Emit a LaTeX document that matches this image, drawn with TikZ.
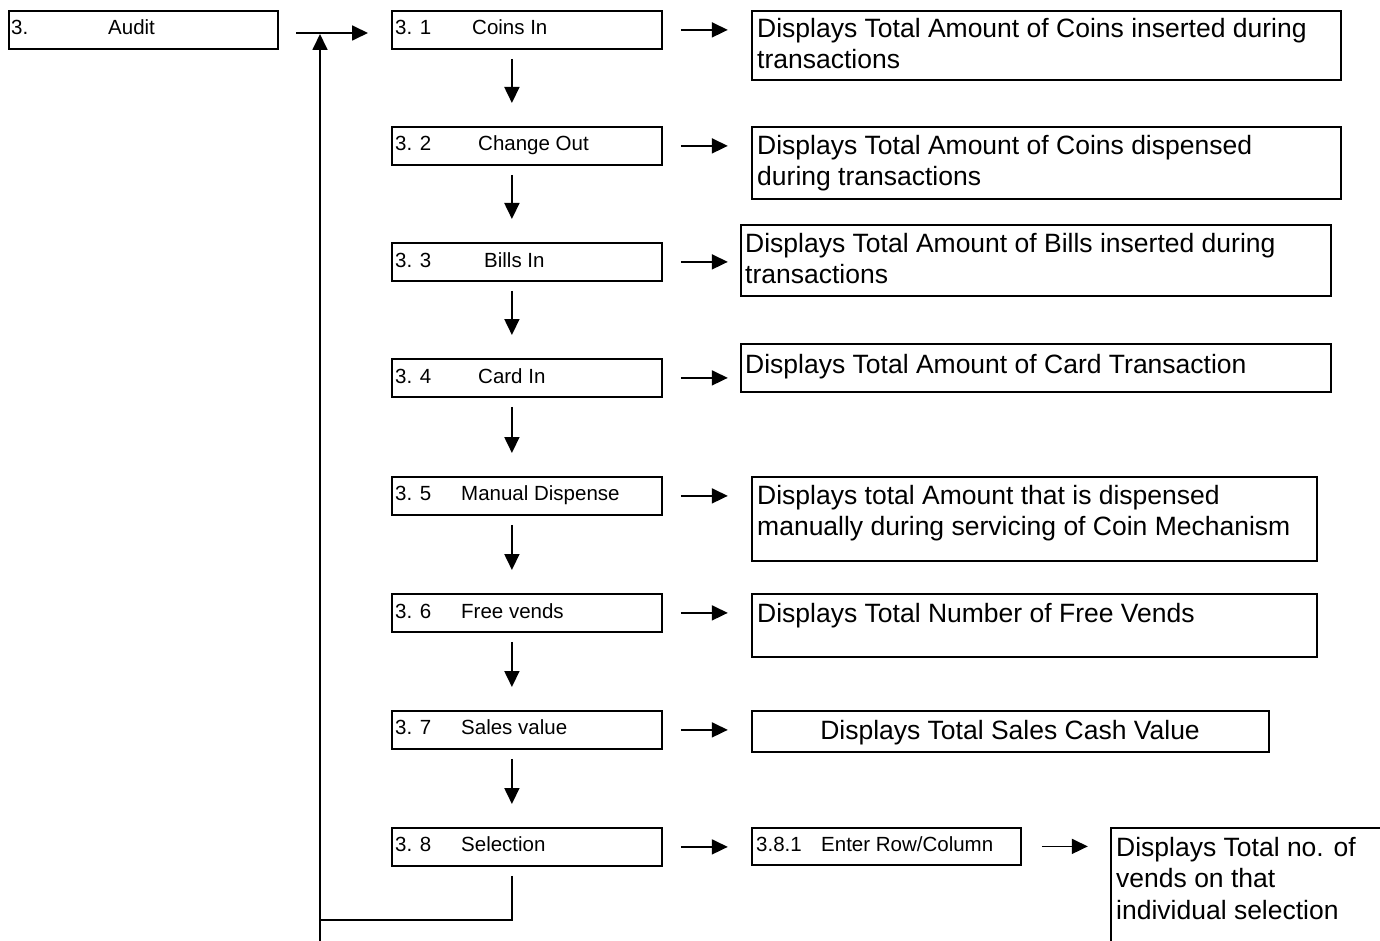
\documentclass[tikz,border=0pt]{standalone}
\usepackage{fontspec}
\setmainfont{Liberation Sans}
\usetikzlibrary{arrows.meta}
\begin{document}
\begin{tikzpicture}[x=1pt,y=-1pt,
  box/.style={draw, line width=1.8pt, anchor=north west, inner sep=0pt, minimum height=38pt},
  small/.style={font=\fontsize{20.5}{24}\selectfont, inner sep=0pt, anchor=base west},
  big/.style={font=\fontsize{26.5}{31.5}\selectfont, inner sep=0pt, anchor=north west, align=left},
  conn/.style={line width=1.8pt},
  arr/.style={line width=1.8pt, -{Triangle[length=16pt,width=15pt]}},
]
\clip (0,0) rectangle (1380,941);
% left column
\node[box, minimum width=269pt] (audit) at (8,10) {};
\node[box, minimum width=270pt] (b1) at (391,10) {};
\node[box, minimum width=270pt] (b2) at (391,126) {};
\node[box, minimum width=270pt] (b3) at (391,242) {};
\node[box, minimum width=270pt] (b4) at (391,358) {};
\node[box, minimum width=270pt] (b5) at (391,476) {};
\node[box, minimum width=270pt] (b6) at (391,593) {};
\node[box, minimum width=270pt] (b7) at (391,710) {};
\node[box, minimum width=270pt] (b8) at (391,827) {};
% right column
\node[box, minimum width=589pt, minimum height=69pt] (r1) at (751,10) {};
\node[box, minimum width=589pt, minimum height=72pt] (r2) at (751,126) {};
\node[box, minimum width=590pt, minimum height=71pt] (r3) at (740,224) {};
\node[box, minimum width=590pt, minimum height=48pt] (r4) at (740,343) {};
\node[box, minimum width=565pt, minimum height=84pt] (r5) at (751,476) {};
\node[box, minimum width=565pt, minimum height=63pt] (r6) at (751,593) {};
\node[box, minimum width=517pt, minimum height=41pt] (r7) at (751,710) {};
\node[box, minimum width=269pt, minimum height=37pt] (r8) at (751,827) {};
\node[box, minimum width=400pt, minimum height=200pt] (r9) at (1110,827) {};
% small texts
\node[small] (tA1) at (11,35) {3.};
\node[small] (tA2) at (108,35) {Audit};
\node[small] (t11) at (395,35) {3. 1};
\node[small] (t12) at (472,35) {Coins In};
\node[small] (t21) at (395,151) {3. 2};
\node[small] (t22) at (478,151) {Change Out};
\node[small] (t31) at (395,267) {3. 3};
\node[small] (t32) at (484,267) {Bills In};
\node[small] (t41) at (395,383) {3. 4};
\node[small] (t42) at (478,383) {Card In};
\node[small] (t51) at (395,500) {3. 5};
\node[small] (t52) at (461,500) {Manual Dispense};
\node[small] (t61) at (395,618) {3. 6};
\node[small] (t62) at (461,618) {Free vends};
\node[small] (t71) at (395,734) {3. 7};
\node[small] (t72) at (461,734) {Sales value};
\node[small] (t81) at (395,851) {3. 8};
\node[small] (t82) at (461,851) {Selection};
\node[small] (t91) at (756,851) {3.8.1};
\node[small] (t92) at (821,851) {Enter Row/Column};
% big texts
\node[big] (x1) at (757,18) {Displays Total Amount of Coins inserted during\\transactions};
\node[big] (x2) at (757,135) {Displays Total Amount of Coins dispensed\\during transactions};
\node[big] (x3) at (745,233) {Displays Total Amount of Bills inserted during\\transactions};
\node[big] (x4) at (745,354) {Displays Total Amount of Card Transaction};
\node[big] (x5) at (757,485) {Displays total Amount that is dispensed\\manually during servicing of Coin Mechanism};
\node[big] (x6) at (757,603) {Displays Total Number of Free Vends};
\node[big, anchor=base] (x7) at (1010,739) {Displays Total Sales Cash Value};
\node[big] (x9) at (1116,837) {Displays Total no. of\\vends on that\\individual selection};
% connectors
\coordinate (as) at (296,33);
\coordinate (ae) at (368,33);
\coordinate (joint) at (320,34);
\coordinate (corner) at (320,920);
\coordinate (loopbot) at (320,945);
\draw[arr] (as) -- (ae);
\draw[arr] (loopbot) -- (joint);
\draw[conn] ([xshift=-15pt,yshift=-9pt]b8.south) |- (corner);
\foreach \a/\b in {b1/b2,b2/b3,b3/b4,b4/b5,b5/b6,b6/b7,b7/b8}
  \draw[arr] ([xshift=-15pt,yshift=-9pt]\a.south) -- ([xshift=-15pt,yshift=23pt]\b.north);
\foreach \a in {b1,b2,b3,b4,b5,b6,b7,b8}
  \draw[arr] ([xshift=18pt]\a.east) -- ([xshift=65pt]\a.east);
\draw[arr] ([xshift=20pt]r8.east) -- ([xshift=66pt]r8.east);
\end{tikzpicture}
\end{document}
